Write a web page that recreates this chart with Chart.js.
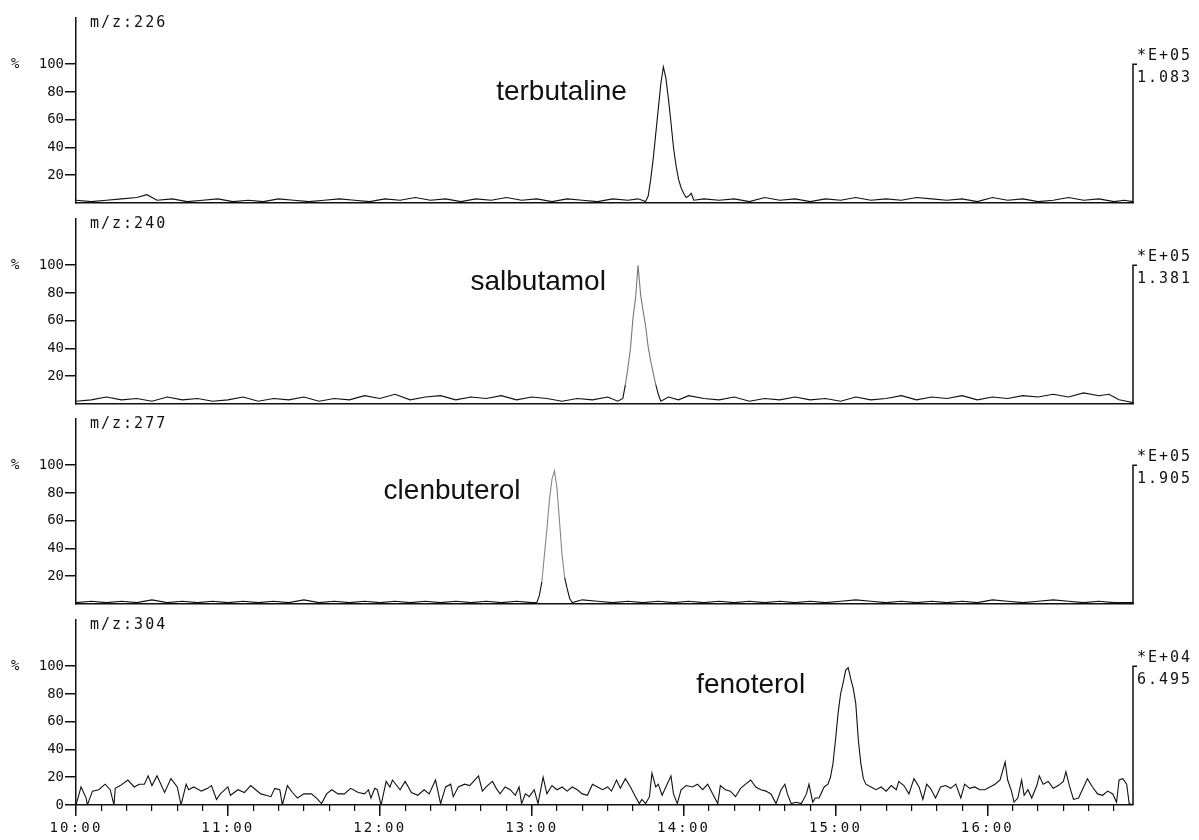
<!DOCTYPE html>
<html>
<head>
<meta charset="utf-8">
<script src="https://cdn.jsdelivr.net/npm/chart.js@4.4.0/dist/chart.umd.min.js"></script>
<style>
  html, body { margin: 0; padding: 0; background: #fff; }
  #wrap { position: relative; width: 1199px; height: 840px; overflow: hidden; }
  #wrap canvas { position: absolute; left: 0; }
</style>
</head>
<body>
<div id="wrap">
  <canvas id="c0" width="1199" height="205" style="top:0px"></canvas>
  <canvas id="c1" width="1199" height="205" style="top:201px"></canvas>
  <canvas id="c2" width="1199" height="205" style="top:401px"></canvas>
  <canvas id="c3" width="1199" height="238" style="top:602px"></canvas>
</div>
<script>
const massLabels     = ['m/z:226', 'm/z:240', 'm/z:277', 'm/z:304'];
const compoundNames  = ['terbutaline', 'salbutamol', 'clenbuterol', 'fenoterol'];
const nameEndTimes   = [817.6, 809.3, 775.6, 888];   // fim do texto (s)
const nameLevels     = [74, 82, 76, 81];             // linha de base do texto (%)
const scaleExponents = ['*E+05', '*E+05', '*E+05', '*E+04'];
const fullScales     = ['1.083', '1.381', '1.905', '6.495'];
const peakShades     = ['#111', '#777', '#888', '#111'];

const yTicksUpper  = [20, 40, 60, 80, 100];
const yTicksBottom = [0, 20, 40, 60, 80, 100];
const timeTickValues = [600, 660, 720, 780, 840, 900, 960];
const timeTickLabels = ['10:00', '11:00', '12:00', '13:00', '14:00', '15:00', '16:00'];
const timeStart = 600, timeEnd = 1017.5, minorStep = 10;
const yTop = 133.3;

// m/z 226 — terbutaline
const times226 = [600,606,612,618,624,628,632,638,644,650,
                  656,662,668,674,680,686,692,698,704,710,
                  716,722,728,734,740,746,752,758,764,770,
                  776,782,788,794,800,806,812,818,822,825,
                  826,827,828,829,830,831,832,833,834,835,
                  836,837,838,839,840,841,842,843,844,848,
                  854,860,866,872,878,884,890,896,902,908,
                  914,920,926,932,938,944,950,956,962,968,
                  974,980,986,992,998,1004,1010,1014,1017.5];
const int226   = [2,1,2,3,4,6,2,3,1,2,
                  3,1,2,1,3,2,1,2,3,2,
                  1,3,2,4,2,3,1,3,2,4,
                  2,3,1,3,2,1,3,2,3,1,
                  5,17,32,50,68,86,98,90,75,58,
                  40,27,17,11,7,4,5,7,2,3,
                  2,3,1,4,2,3,1,3,2,4,
                  2,3,2,4,3,2,3,1,4,2,
                  3,1,2,4,2,3,1,2,1];

// m/z 240 — salbutamol
const times240 = [600,606,612,618,624,630,636,642,648,654,
                  660,666,672,678,684,690,696,702,708,714,
                  720,726,732,738,744,750,756,762,768,774,
                  780,786,792,798,804,810,814,816,817,818,
                  819,820,821,822,823,824,825,826,827,828,
                  829,830,831,834,838,842,848,854,860,866,
                  872,878,884,890,896,902,908,914,920,926,
                  932,938,944,950,956,962,968,974,980,986,
                  992,998,1004,1008,1012,1015,1017.5];
const int240   = [2,3,5,3,4,2,5,3,4,2,
                  3,5,2,4,3,5,2,4,3,6,
                  4,7,3,5,6,3,5,4,6,3,
                  5,4,2,4,3,5,2,4,14,26,
                  40,62,76,100,79,67,56,41,31,22,
                  14,7,2,5,3,6,4,3,5,2,
                  4,3,5,3,4,2,5,3,4,6,
                  3,5,4,6,3,5,4,6,5,7,
                  5,8,6,7,3,2,1];

// m/z 277 — clenbuterol
const times277 = [600,606,612,618,624,630,636,642,648,654,
                  660,666,672,678,684,690,696,702,708,714,
                  720,726,732,738,744,750,756,762,768,774,
                  780,782,783,784,785,786,787,788,789,790,
                  791,792,793,794,795,796,800,806,812,818,
                  824,830,836,842,848,854,860,866,872,878,
                  884,890,896,902,908,914,920,926,932,938,
                  944,950,956,962,968,974,980,986,992,998,
                  1004,1010,1017.5];
const int277   = [1,2,1,2,1,3,1,2,1,2,
                  1,2,1,2,1,3,1,2,1,2,
                  1,2,1,2,1,2,1,2,1,2,
                  1,1,6,16,35,54,75,90,96,83,
                  59,35,19,11,4,1,3,2,1,2,
                  1,2,1,2,1,2,1,2,1,2,
                  1,2,1,2,3,2,1,2,1,2,
                  1,2,1,3,2,1,2,3,2,1,
                  2,1,1];

// m/z 304 — fenoterol
const times304 = [600,602,604,604.5,606.5,609,611.5,613.5,615,615.5,
                  617.5,620.5,623,625,627,628.5,630,632,635,637.5,
                  640,641.5,643.5,644.5,646.5,649.5,652,653.5,655.5,657,
                  660,661,664,666.5,669,671,673,675,677,678.5,
                  680.5,681.5,683.5,685.5,687.5,690,693,695,697,699,
                  701,703.5,706,708.5,711.5,714,715.5,716.5,718,719,
                  720.5,722.5,724,725,728,730,732.5,735,737.5,739.5,
                  742,744,746,748,749,751,753.5,755.5,757.5,759,
                  760.5,762.5,764.5,766,767.5,769.5,771.5,773.5,775,776,
                  777.5,779,781,782.5,784.5,786,788,790,792,794,
                  796,798,800,802,804,806,808,810,811.5,813.5,
                  815,817,819,821,822.5,823.5,825,826.5,827.5,829,
                  830,831.5,833.5,835,836,837.5,839,841,843.5,845.5,
                  847.5,849.5,851.5,853.5,854.5,856.5,858.5,860.5,862.5,864.5,
                  866.5,868.5,870.5,872.5,874.5,876.5,878.5,880,881,882.5,
                  884.5,886.5,888.5,889.5,891,892,893.5,895.5,897,898,
                  899,900,901,902,903,904,905,906,907,908,
                  909,910,911,912,914,916,918,920,922,924,
                  925,927,929,931,933,934.5,936,937.5,939.5,941.5,
                  943.5,945.5,947.5,949.5,951,953,955,957,959,961,
                  963,965,967,968,969.5,970.5,972,973.5,974.5,976,
                  977.5,979.5,980.5,982,984,986,988,990,991,992.5,
                  994,996,998,999.5,1001.5,1003.5,1005.5,1007.5,1009.5,1011,
                  1012,1013.5,1015,1016,1017.5];
const int304   = [0,13,5,0,10,11,15,11,0,12,
                  14,18,13,15,15,21,14,21,9,19,
                  13,0,15,11,13,10,12,14,4,8,
                  13,7,11,9,14,11,8,7,6,12,
                  11,0,14,9,5,8,8,5,1,8,
                  11,8,8,12,9,8,11,5,12,11,
                  0,17,13,18,11,17,9,7,11,8,
                  18,1,13,15,6,13,15,14,18,21,
                  10,14,17,12,8,13,11,7,13,1,
                  8,6,11,1,20,8,14,11,13,10,
                  13,11,8,7,15,13,11,13,10,18,
                  12,19,13,6,1,4,1,6,23,13,
                  15,7,15,21,8,1,11,14,13,15,
                  11,15,8,1,14,11,10,6,12,15,
                  18,13,11,10,8,1,11,15,8,1,
                  2,1,8,15,2,5,5,13,15,20,
                  30,47,66,80,88,97,99,91,84,73,
                  47,30,19,15,13,11,13,10,14,11,
                  17,14,8,19,13,4,15,12,5,13,
                  14,12,15,5,15,12,13,11,11,13,
                  15,18,31,18,10,2,5,18,7,11,
                  5,14,21,15,17,12,14,17,24,13,
                  4,5,13,19,13,8,7,10,8,2,
                  18,19,15,1,0];

const panelTimes  = [times226, times240, times277, times304];
const panelValues = [int226, int240, int277, int304];

// ── estilo
const INK = '#111';
const monoTick = { family: '"DejaVu Sans Mono", monospace', size: 14 };

// decoração de cada painel: rótulo m/z, escala à direita, nome do composto
const panelDeco = {
  id: 'panelDeco',
  afterDraw(chart, args, o) {
    const i = o.index;
    const { ctx, chartArea: a, scales: { x, y } } = chart;
    const y100 = y.getPixelForValue(100);
    ctx.save();
    ctx.strokeStyle = INK;
    ctx.fillStyle = INK;
    ctx.lineWidth = 1.5;
    ctx.beginPath();
    ctx.moveTo(a.right + 4, y100);
    ctx.lineTo(a.right, y100);
    ctx.lineTo(a.right, a.bottom);
    ctx.stroke();

    ctx.font = '15px "DejaVu Sans Mono"';
    ctx.letterSpacing = '2px';
    ctx.textAlign = 'left';
    ctx.textBaseline = 'middle';
    ctx.fillText(massLabels[i], a.left + 14, a.top + 5);
    ctx.fillText(scaleExponents[i], a.right + 4, y100 - 8);
    ctx.fillText(fullScales[i], a.right + 4, y100 + 14);
    ctx.letterSpacing = '0px';
    ctx.font = '14px "DejaVu Sans Mono"';
    ctx.fillText('%', 11, y100);

    ctx.font = '28px "Liberation Sans"';
    ctx.textAlign = 'right';
    ctx.textBaseline = 'alphabetic';
    ctx.fillText(compoundNames[i], x.getPixelForValue(nameEndTimes[i]), y.getPixelForValue(nameLevels[i]));
    ctx.restore();
  }
};

function spaceLabels(scale) {
  if (scale._spaced) return;
  const base = scale.draw;
  scale.draw = function (area) {
    this.ctx.save();
    this.ctx.letterSpacing = '2.2px';
    base.call(this, area);
    this.ctx.restore();
  };
  scale._spaced = true;
}

function buildPanel(i) {
  const isBottom = i === 3;
  const pts = panelTimes[i].map((t, k) => ({ x: t, y: panelValues[i][k] }));
  const yTicks = isBottom ? yTicksBottom : yTicksUpper;

  const scales = {
    y: {
      min: 0, max: yTop,
      afterBuildTicks: s => { s.ticks = yTicks.map(v => ({ value: v })); },
      ticks: { font: monoTick, color: INK, padding: 1 },
      grid: { display: true, drawOnChartArea: false, drawTicks: true, tickLength: 11, color: INK, lineWidth: 1.5 },
      border: { display: true, color: INK, width: 1.5 },
      afterFit: s => { s.width = 76; s.paddingTop = 0; s.paddingBottom = 0; }
    }
  };

  if (!isBottom) {
    scales.x = {
      type: 'linear', min: timeStart, max: timeEnd,
      ticks: { display: false },
      grid: { display: false },
      border: { display: true, color: INK, width: 1.5 },
      afterFit: s => { s.height = 0; s.paddingLeft = 0; s.paddingRight = 0; }
    };
  } else {
    scales.xMinor = {
      type: 'linear', position: 'bottom', weight: 0, min: timeStart, max: timeEnd,
      afterBuildTicks: s => {
        const t = [];
        for (let v = timeStart; v <= timeEnd; v += minorStep) t.push({ value: v });
        s.ticks = t;
      },
      ticks: { display: false },
      grid: { display: true, drawOnChartArea: false, drawTicks: true, tickLength: 6, color: INK, lineWidth: 1.2 },
      border: { display: false },
      afterFit: s => { s.height = 0; s.paddingLeft = 0; s.paddingRight = 0; }
    };
    scales.x = {
      type: 'linear', position: 'bottom', weight: 1, min: timeStart, max: timeEnd,
      afterBuildTicks: s => { s.ticks = timeTickValues.map(v => ({ value: v })); },
      ticks: {
        font: monoTick, color: INK, padding: 4, maxRotation: 0, autoSkip: false,
        callback: (v, idx) => timeTickLabels[idx]
      },
      grid: { display: true, drawOnChartArea: false, drawTicks: true, tickLength: 11, color: INK, lineWidth: 1.5 },
      border: { display: true, color: INK, width: 1.5 },
      afterFit: s => { s.height = 35; s.paddingLeft = 0; s.paddingRight = 0; spaceLabels(s); }
    };
  }

  return new Chart(document.getElementById('c' + i), {
    type: 'line',
    data: {
      datasets: [{
        data: pts,
        borderColor: INK,
        borderWidth: 1.1,
        pointRadius: 0,
        tension: 0,
        segment: {
          borderColor: c => (c.p0.parsed.y > 12 && c.p1.parsed.y > 12) ? peakShades[i] : INK
        }
      }]
    },
    options: {
      responsive: false,
      animation: false,
      events: [],
      layout: { padding: { left: 0, right: 66, top: 18, bottom: isBottom ? 0 : 2 } },
      plugins: { legend: { display: false }, tooltip: { enabled: false }, panelDeco: { index: i } },
      scales
    },
    plugins: [panelDeco]
  });
}

[0, 1, 2, 3].forEach(buildPanel);
</script>
</body>
</html>
